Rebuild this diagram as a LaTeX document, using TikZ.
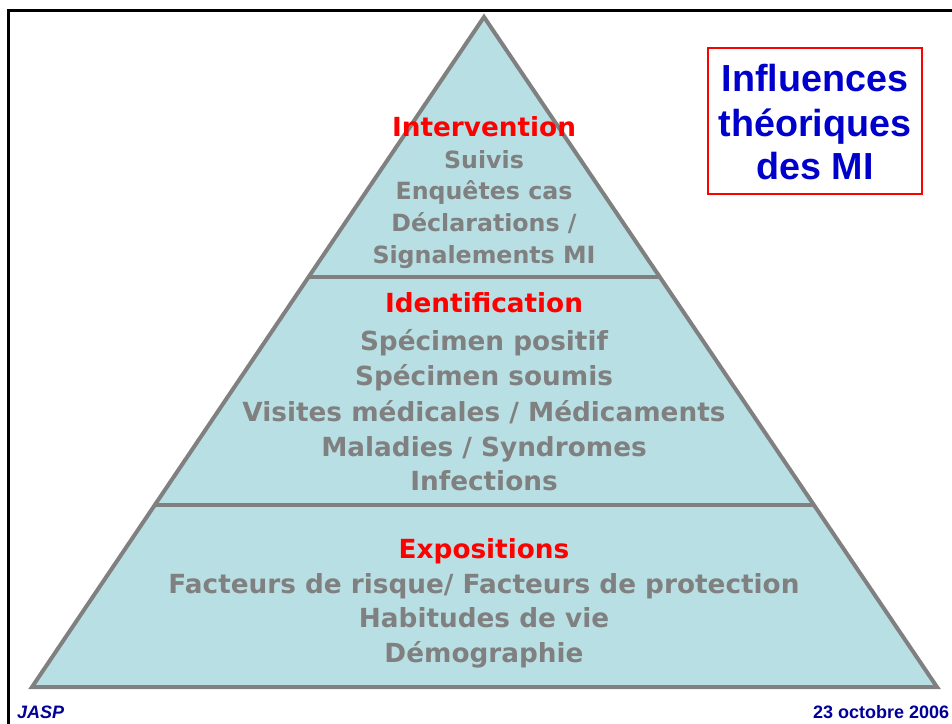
\documentclass[tikz,border=0pt]{standalone}
\usepackage{fontspec}
\setmainfont{DejaVu Sans}
\newfontfamily\arialfont{Liberation Sans}
\definecolor{pyrfill}{RGB}{184,223,227}
\definecolor{pyredge}{RGB}{128,128,128}
\definecolor{txtgray}{RGB}{128,128,128}
\definecolor{titred}{RGB}{255,0,0}
\definecolor{boxblue}{RGB}{0,0,204}
\definecolor{footblue}{RGB}{0,0,153}
\tikzset{
  layertitle/.style={anchor=base,inner sep=0pt,text=titred,font=\bfseries\fontsize{26.3}{26.3}\selectfont},
  layerline/.style={anchor=base,inner sep=0pt,text=txtgray,font=\bfseries\fontsize{26.3}{26.3}\selectfont},
  topline/.style={anchor=base,inner sep=0pt,text=txtgray,font=\bfseries\fontsize{23.7}{23.7}\selectfont},
  boxline/.style={anchor=base,inner sep=0pt,text=boxblue,font=\arialfont\bfseries\fontsize{37.7}{37.7}\selectfont},
  footer/.style={anchor=base,inner sep=0pt,text=footblue,font=\arialfont\bfseries\fontsize{18}{18}\selectfont},
}
\begin{document}
\begin{tikzpicture}[x=1pt,y=-1pt]
\useasboundingbox (0,0) rectangle (952,723);
% slide frame
\draw[line width=3pt,black] (8.5,800) -- (8.5,10.5) -- (1000,10.5);
% pyramid
\coordinate (apex) at (484,17);
\coordinate (bl) at (32,687);
\coordinate (br) at (937,687);
\coordinate (d1l) at (309.5,277);
\coordinate (d1r) at (658.5,277);
\coordinate (d2l) at (155,505);
\coordinate (d2r) at (813,505);
\draw[line width=4pt,pyredge,fill=pyrfill,line join=miter] (apex) -- (bl) -- (br) -- cycle;
\draw[line width=3.5pt,pyredge] (d1l) -- (d1r);
\draw[line width=3.5pt,pyredge] (d2l) -- (d2r);
% top layer
\node[layertitle] (t1) at (484,136) {Intervention};
\node[topline] (t1a) at (484,168) {Suivis};
\node[topline] (t1b) at (484,199.5) {Enquêtes cas};
\node[topline] (t1c) at (484,231.5) {Déclarations /};
\node[topline] (t1d) at (484,263) {Signalements MI};
% middle layer
\node[layertitle] (t2) at (484,312) {Identification};
\node[layerline] (t2a) at (484,350.5) {Spécimen positif};
\node[layerline] (t2b) at (484,385.5) {Spécimen soumis};
\node[layerline] (t2c) at (484,421) {Visites médicales / Médicaments};
\node[layerline] (t2d) at (484,456) {Maladies / Syndromes};
\node[layerline] (t2e) at (484,490) {Infections};
% bottom layer
\node[layertitle] (t3) at (484,558) {Expositions};
\node[layerline] (t3a) at (484,593) {Facteurs de risque/ Facteurs de protection};
\node[layerline] (t3b) at (484,627.5) {Habitudes de vie};
\node[layerline] (t3c) at (484,662) {Démographie};
% title box
\draw[line width=2.2pt,titred,fill=white] (708,48) rectangle (922,194);
\node[boxline] (b1) at (815,91) {Influences};
\node[boxline] (b2) at (815,136) {théoriques};
\node[boxline] (b3) at (815,179) {des MI};
% footer
\node[footer,anchor=base west,font=\arialfont\bfseries\itshape\fontsize{18}{18}\selectfont] (f1) at (17,718.5) {JASP};
\node[footer,anchor=base west] (f2) at (813,718.5) {23 octobre 2006};
\end{tikzpicture}
\end{document}
